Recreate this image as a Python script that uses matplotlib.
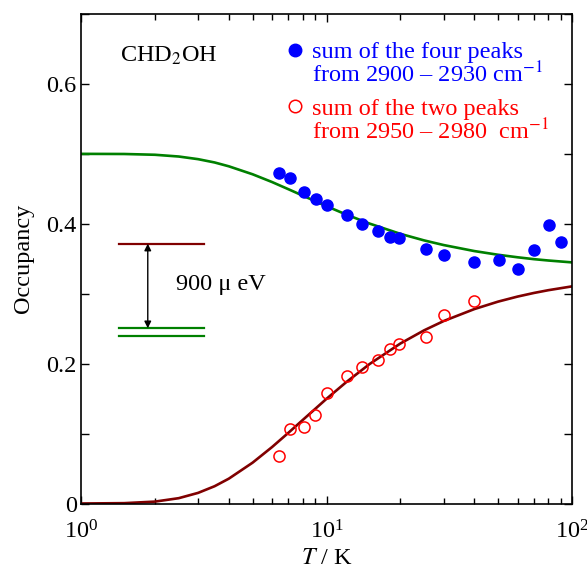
import matplotlib
matplotlib.use("Agg")
import matplotlib.pyplot as plt
from matplotlib.lines import Line2D
from matplotlib.ticker import MultipleLocator, LogLocator, NullFormatter

plt.rcParams['font.family'] = ['Liberation Serif', 'DejaVu Serif']
plt.rcParams['mathtext.fontset'] = 'stix'

# measured data
T_data = [6.40, 7.10, 8.12, 9.03, 10.08, 12.08, 13.99, 16.2, 18.2, 19.7,
          25.5, 30.2, 40.0, 50.3, 60.3, 70.0, 80.6, 90.2]
occ_four = [0.473, 0.465, 0.446, 0.435, 0.4265, 0.412, 0.400, 0.389, 0.381,
            0.379, 0.364, 0.355, 0.346, 0.348, 0.335, 0.363, 0.398, 0.3735]
T_two = [6.40, 7.10, 8.1, 9.0, 10.08, 12.08, 14.0, 16.2, 18.2, 19.7, 25.5, 30.2, 40.0]
occ_two = [0.0686, 0.1063, 0.110, 0.127, 0.158, 0.182, 0.195, 0.205, 0.221,
           0.228, 0.238, 0.269, 0.290]

# model curves
T_curve = [1.0, 1.5, 2.0, 2.5, 3.0, 3.5, 4.0, 5.0, 6.0, 7.0, 8.0, 10.0, 12.0,
           15.0, 20.0, 25.0, 30.0, 40.0, 50.0, 60.0, 70.0, 80.0, 100.0]
curve_lower = [0.5, 0.4998, 0.4987, 0.4962, 0.4924, 0.4877, 0.4822, 0.4708,
               0.4597, 0.4494, 0.4403, 0.4252, 0.4134, 0.4002, 0.3856, 0.3762,
               0.3696, 0.3610, 0.3557, 0.3521, 0.3494, 0.3475, 0.3448]
curve_upper = [0.0, 0.0005, 0.0027, 0.0076, 0.0152, 0.0247, 0.0355, 0.0584,
               0.0807, 0.1012, 0.1194, 0.1497, 0.1732, 0.1996, 0.2288, 0.2477,
               0.2609, 0.2780, 0.2887, 0.2959, 0.3011, 0.3050, 0.3105]

level_upper = 0.3716
levels_lower = [0.2506, 0.2397]

green = '#008000'
darkred = '#800000'
FS = 17.5

fig = plt.figure(figsize=(5.87, 5.67), dpi=100)
ax = fig.add_axes([81/587, (567-503.5)/567, (572-81)/587, (503.5-14)/567])

ax.plot(T_curve, curve_lower, color=green, lw=1.9, zorder=2)
ax.plot(T_curve, curve_upper, color=darkred, lw=1.9, zorder=2)
ax.plot(T_data, occ_four, 'o', color='blue', ms=8, mec='blue', zorder=3)
ax.plot(T_two, occ_two, 'o', mfc='none', mec='red', mew=1.1, ms=8, zorder=3)

ax.set_xscale('log')
ax.set_xlim(1, 100)
ax.set_ylim(0, 0.7)

ax.yaxis.set_minor_locator(MultipleLocator(0.1))
ax.xaxis.set_minor_locator(LogLocator(base=10, subs=range(2, 10)))
ax.xaxis.set_minor_formatter(NullFormatter())
ax.set_yticks([0, 0.2, 0.4, 0.6])
ax.set_yticklabels(['0', '0.2', '0.4', '0.6'])

ax.tick_params(which='both', direction='in', top=True, right=True,
               labelsize=FS, width=1)
ax.tick_params(which='major', length=6)
ax.tick_params(axis='y', which='both', pad=3)
ax.tick_params(axis='x', which='major', pad=12)
ax.tick_params(axis='y', which='minor', length=6)
ax.tick_params(axis='x', which='minor', length=4)
for s in ax.spines.values():
    s.set_linewidth(1.2)

ax.set_xlabel('$T$ / K', fontsize=FS, labelpad=3)
ax.set_ylabel('Occupancy', fontsize=FS, labelpad=9)

ax.text(0.079, 0.902, 'CHD$_2$OH', transform=ax.transAxes, fontsize=FS,
        va='baseline', ha='left')

# energy level diagram
ax.axhline(level_upper, xmin=0.078, xmax=0.2505, color=darkred, lw=1.6)
for lv in levels_lower:
    ax.axhline(lv, xmin=0.078, xmax=0.2505, color=green, lw=1.6)
ax.annotate('', xy=(0.136, levels_lower[0]), xytext=(0.136, level_upper),
            xycoords=('axes fraction', 'data'),
            textcoords=('axes fraction', 'data'),
            arrowprops=dict(arrowstyle='<|-|>', color='black', lw=1,
                            mutation_scale=10, shrinkA=0, shrinkB=0))
ax.text(0.193, 0.447, '900 μ eV', transform=ax.transAxes, fontsize=FS,
        va='center', ha='left')

# legends
h_blue = [Line2D([], [], marker='o', ls='none', color='blue', ms=9),
          Line2D([], [], ls='none')]
l_blue = ['sum of the four peaks', 'from 2900 – 2930 cm$^{-1}$']
h_red = [Line2D([], [], marker='o', ls='none', mfc='none', mec='red', mew=1.1, ms=9),
         Line2D([], [], ls='none')]
l_red = ['sum of the two peaks', 'from 2950 – 2980  cm$^{-1}$']

kw = dict(loc='upper left', frameon=False, fontsize=FS, handlelength=0.6,
          handletextpad=0.4, labelspacing=-0.05, borderpad=0.0, borderaxespad=0.0)
leg1 = ax.legend(h_blue, l_blue, bbox_to_anchor=(0.42, 0.944), **kw)
for t in leg1.get_texts():
    t.set_color('blue')
ax.add_artist(leg1)
leg2 = ax.legend(h_red, l_red, bbox_to_anchor=(0.42, 0.829), **kw)
for t in leg2.get_texts():
    t.set_color('red')

fig.savefig('out.png', dpi=100)
